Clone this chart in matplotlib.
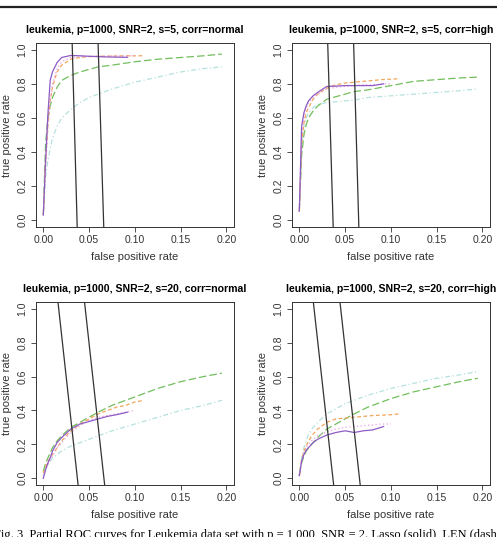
import matplotlib

matplotlib.use("Agg")

import matplotlib.pyplot as plt
from matplotlib.lines import Line2D


TITLES = [
    "leukemia, p=1000, SNR=2, s=5, corr=normal",
    "leukemia, p=1000, SNR=2, s=5, corr=high",
    "leukemia, p=1000, SNR=2, s=20, corr=normal",
    "leukemia, p=1000, SNR=2, s=20, corr=high",
]

X_TICKS = [0.00, 0.05, 0.10, 0.15, 0.20]
Y_TICKS = [0.0, 0.2, 0.4, 0.6, 0.8, 1.0]

# fpr grids per method
FPR_SOLID = [0, 0.0025, 0.005, 0.0075, 0.01, 0.015, 0.02, 0.03, 0.04, 0.05,
             0.06, 0.07, 0.08, 0.092]
FPR_DOTTED = [0, 0.0025, 0.005, 0.0075, 0.01, 0.015, 0.02, 0.03, 0.04, 0.05,
              0.06, 0.07, 0.08, 0.09, 0.10]
FPR_DASHED = [0, 0.0025, 0.005, 0.0075, 0.01, 0.015, 0.02, 0.03, 0.04, 0.05,
              0.06, 0.07, 0.08, 0.09, 0.10, 0.11]
FPR_LONG = [0, 0.0025, 0.005, 0.0075, 0.01, 0.015, 0.02, 0.03, 0.04, 0.05,
            0.06, 0.075, 0.1, 0.125, 0.15, 0.175, 0.195]

# tpr per panel (order: s5 normal, s5 high, s20 normal, s20 high)
TPR_SOLID = [
    [0.03, 0.35, 0.62, 0.82, 0.87, 0.925, 0.955, 0.967, 0.965, 0.962, 0.960, 0.958, 0.957, 0.956],
    [0.055, 0.55, 0.63, 0.67, 0.70, 0.73, 0.75, 0.785, 0.787, 0.79, 0.79, 0.79, 0.79, 0.80],
    [0.0, 0.05, 0.09, 0.12, 0.16, 0.21, 0.24, 0.29, 0.32, 0.335, 0.35, 0.365, 0.375, 0.39],
    [0.015, 0.10, 0.14, 0.165, 0.18, 0.21, 0.23, 0.255, 0.27, 0.28, 0.27, 0.28, 0.285, 0.305],
]
TPR_DOTTED = [
    [0.03, 0.30, 0.55, 0.70, 0.80, 0.89, 0.93, 0.955, 0.96, 0.962, 0.963, 0.963, 0.964, 0.964, 0.965],
    [0.05, 0.50, 0.60, 0.66, 0.69, 0.72, 0.74, 0.77, 0.78, 0.785, 0.79, 0.795, 0.795, 0.80, 0.80],
    [0.0, 0.05, 0.08, 0.11, 0.13, 0.18, 0.21, 0.27, 0.31, 0.34, 0.36, 0.37, 0.38, 0.39, 0.40],
    [0.015, 0.10, 0.15, 0.18, 0.20, 0.23, 0.25, 0.275, 0.29, 0.30, 0.305, 0.31, 0.315, 0.32, 0.32],
]
TPR_DASHED = [
    [0.03, 0.35, 0.55, 0.70, 0.78, 0.87, 0.91, 0.945, 0.955, 0.96, 0.962, 0.963, 0.964, 0.965, 0.965, 0.965],
    [0.05, 0.45, 0.57, 0.63, 0.66, 0.71, 0.74, 0.775, 0.795, 0.805, 0.81, 0.815, 0.82, 0.825, 0.828, 0.83],
    [0.03, 0.07, 0.10, 0.12, 0.14, 0.18, 0.22, 0.28, 0.32, 0.35, 0.38, 0.40, 0.42, 0.43, 0.45, 0.46],
    [0.015, 0.11, 0.16, 0.19, 0.22, 0.26, 0.29, 0.33, 0.35, 0.355, 0.36, 0.365, 0.37, 0.372, 0.375, 0.38],
]
TPR_LONGDASH = [
    [0.03, 0.45, 0.60, 0.67, 0.72, 0.78, 0.82, 0.85, 0.87, 0.885, 0.90, 0.91, 0.93, 0.945, 0.955, 0.965, 0.975],
    [0.05, 0.38, 0.50, 0.56, 0.60, 0.64, 0.67, 0.71, 0.725, 0.74, 0.755, 0.765, 0.79, 0.815, 0.825, 0.835, 0.84],
    [0.04, 0.09, 0.12, 0.15, 0.18, 0.22, 0.25, 0.30, 0.33, 0.36, 0.39, 0.43, 0.48, 0.53, 0.57, 0.60, 0.62],
    [0.02, 0.09, 0.13, 0.16, 0.18, 0.21, 0.24, 0.29, 0.32, 0.35, 0.38, 0.42, 0.47, 0.51, 0.54, 0.57, 0.59],
]
TPR_DOTDASH = [
    [0.03, 0.25, 0.35, 0.42, 0.48, 0.55, 0.60, 0.65, 0.69, 0.72, 0.74, 0.77, 0.81, 0.84, 0.87, 0.89, 0.90],
    [0.05, 0.42, 0.55, 0.60, 0.63, 0.66, 0.68, 0.69, 0.695, 0.70, 0.705, 0.72, 0.73, 0.74, 0.75, 0.76, 0.77],
    [0.02, 0.06, 0.08, 0.10, 0.12, 0.14, 0.16, 0.19, 0.21, 0.23, 0.25, 0.28, 0.32, 0.36, 0.40, 0.43, 0.46],
    [0.015, 0.12, 0.18, 0.22, 0.26, 0.30, 0.33, 0.38, 0.41, 0.44, 0.46, 0.49, 0.53, 0.56, 0.59, 0.61, 0.63],
]

# slanted black reference lines: x at the top and at the bottom of the box
CUT_Y = [1.04, -0.04]
CUT_X_TOP = [
    [[0.0315, 0.037], [0.0598, 0.066]],
    [[0.031, 0.037], [0.0593, 0.065]],
    [[0.016, 0.038], [0.045, 0.067]],
    [[0.0153, 0.0375], [0.0444, 0.0665]],
]

CAPTION = ("Fig. 3  Partial ROC curves for Leukemia data set with p = 1,000, "
           "SNR = 2. Lasso (solid), LEN (dashed), and")

SERIES_STYLE = [
    ("#8E5CC4", "-", (FPR_SOLID, TPR_SOLID)),
    ("#E9A0E6", (0, (1, 2)), (FPR_DOTTED, TPR_DOTTED)),
    ("#F2A55A", (0, (3, 2)), (FPR_DASHED, TPR_DASHED)),
    ("#72BE5C", (0, (6, 2.5)), (FPR_LONG, TPR_LONGDASH)),
    ("#B5E2DE", (0, (1, 2, 4, 2)), (FPR_LONG, TPR_DOTDASH)),
]

AXES_POS = [
    [0.0724, 0.5773, 0.398, 0.3426],
    [0.5875, 0.5773, 0.398, 0.3426],
    [0.0724, 0.0968, 0.398, 0.3408],
    [0.5875, 0.0968, 0.398, 0.3408],
]


def draw_panel(ax, idx):
    for color, style, (fpr, tpr_sets) in SERIES_STYLE[::-1]:
        ax.plot(fpr, tpr_sets[idx], color=color, linestyle=style, linewidth=0.9)

    for x_pair in CUT_X_TOP[idx]:
        ax.plot(x_pair, CUT_Y, color="#333333", linewidth=0.9)

    ax.set_xlim(-0.008, 0.208)
    ax.set_ylim(-0.04, 1.04)
    ax.set_xticks(X_TICKS)
    ax.set_xticklabels([f"{v:.2f}" for v in X_TICKS])
    ax.set_yticks(Y_TICKS)
    ax.set_yticklabels([f"{v:.1f}" for v in Y_TICKS], rotation=90, va="center")

    ax.tick_params(direction="out", length=3.5, width=0.6, colors="#333333",
                   labelsize=7.5, pad=2.5)
    for spine in ax.spines.values():
        spine.set_color("#333333")
        spine.set_linewidth(0.7)

    ax.set_title(TITLES[idx], fontsize=7.6, fontweight="bold", pad=7)
    ax.set_xlabel("false positive rate", fontsize=8, color="#333333", labelpad=5)
    ax.set_ylabel("true positive rate", fontsize=8, color="#333333", labelpad=4)


def main():
    plt.rcParams["font.family"] = ["Liberation Sans", "DejaVu Sans"]

    fig = plt.figure(figsize=(4.97, 5.37), dpi=100)

    for idx, pos in enumerate(AXES_POS):
        ax = fig.add_axes(pos)
        draw_panel(ax, idx)

    fig.add_artist(Line2D([0, 1], [1 - 7 / 537, 1 - 7 / 537],
                          transform=fig.transFigure, color="#222222", linewidth=1.6))

    fig.text(-0.012, 1 - 529 / 537, CAPTION, fontsize=9, va="top", ha="left",
             family=["Liberation Serif", "DejaVu Serif"])

    plt.savefig("out.png", dpi=100)
    plt.close()


if __name__ == "__main__":
    main()
